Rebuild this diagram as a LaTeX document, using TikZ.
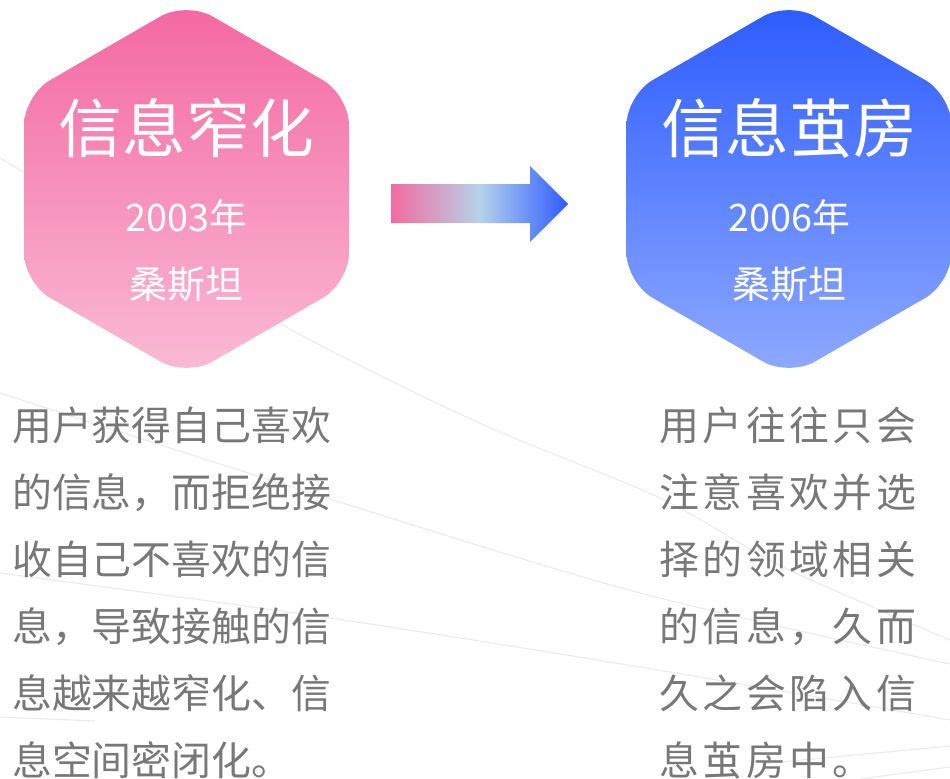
\documentclass[tikz,border=0pt]{standalone}
\usepackage{fontspec}
\setmainfont{Noto Sans CJK SC}
\newfontfamily\cjkspaced[LetterSpace=9]{Noto Sans CJK SC}
\definecolor{pinkTop}{HTML}{F467A1}
\definecolor{pinkBot}{HTML}{FABBD5}
\definecolor{blueTop}{HTML}{2C5BFF}
\definecolor{blueBot}{HTML}{8FAAFF}
\definecolor{arrPink}{HTML}{F26BA0}
\definecolor{arrMid}{HTML}{B5D3EA}
\definecolor{arrBlue}{HTML}{2E5BFF}
\definecolor{bodygray}{HTML}{787878}
\definecolor{bgline}{HTML}{EBEBEB}
\pgfdeclarehorizontalshading{arrowshade}{100bp}{color(0bp)=(arrPink); color(25bp)=(arrPink); color(50bp)=(arrMid); color(75bp)=(arrBlue); color(100bp)=(arrBlue)}
\tikzset{
  bgstroke/.style={draw=bgline, line width=1.1bp},
  hexshape/.style={rounded corners=30bp},
  titletext/.style={text=white, inner sep=0pt, anchor=base, font=\fontsize{64}{64}\selectfont},
  subtext/.style={text=white, inner sep=0pt, anchor=base, font=\fontsize{38}{38}\selectfont},
  bodyleft/.style={text=bodygray, inner sep=0pt, anchor=base west, font=\fontsize{40}{40}\selectfont},
  bodyright/.style={text=bodygray, inner sep=0pt, anchor=base west, font=\fontsize{40}{40}\cjkspaced\selectfont},
}
\begin{document}
\begin{tikzpicture}[x=1bp,y=-1bp]
\useasboundingbox (0,0) rectangle (950,779);
% faint background lines
\draw[bgstroke] plot[smooth] coordinates {(0,158) (277,322) (475,421) (660,498) (783,567) (950,640)};
\draw[bgstroke] plot[smooth] coordinates {(0,393) (330,499) (640,593) (950,664)};
\draw[bgstroke] plot[smooth] coordinates {(0,573) (330,618) (640,667) (950,720)};
\draw[bgstroke] (0,717) -- (95,721);
\draw[bgstroke] (760,764) -- (950,746);
\draw[bgstroke] (860,779) -- (950,767);
% left hexagon
\begin{scope}[shift={(186.5,189)}]
\shade[hexshape, top color=pinkTop, bottom color=pinkBot]
  (-162.5,0) -- (-162.5,-93.8) -- (0,-187.6) -- (162.5,-93.8) -- (162.5,93.8) -- (0,187.6) -- (-162.5,93.8) -- cycle;
\end{scope}
% right hexagon
\begin{scope}[shift={(789,189)}]
\shade[hexshape, top color=blueTop, bottom color=blueBot]
  (-162.5,0) -- (-162.5,-93.8) -- (0,-187.6) -- (162.5,-93.8) -- (162.5,93.8) -- (0,187.6) -- (-162.5,93.8) -- cycle;
\end{scope}
% arrow
\coordinate (arrtail) at (391,203.5);
\coordinate (arrtip) at (568,204);
\shade[shading=arrowshade]
  (391,184) -- (530,184) -- (530,166) -- (arrtip) -- (530,242) -- (530,223) -- (391,223) -- cycle;
% hexagon texts
\node[titletext] (t1) at (186.5,152.5) {信息窄化};
\node[subtext] (y1) at (186.5,231) {2003年};
\node[subtext] (a1) at (186.5,298) {桑斯坦};
\node[titletext] (t2) at (789.5,152.5) {信息茧房};
\node[subtext] (y2) at (789.5,231) {2006年};
\node[subtext] (a2) at (789.5,298) {桑斯坦};
% left paragraph
\node[bodyleft] (l1) at (12,440.2) {用户获得自己喜欢};
\node[bodyleft] (l2) at (12,507.3) {的信息，而拒绝接};
\node[bodyleft] (l3) at (12,574.4) {收自己不喜欢的信};
\node[bodyleft] (l4) at (12,641.5) {息，导致接触的信};
\node[bodyleft] (l5) at (12,708.6) {息越来越窄化、信};
\node[bodyleft] (l6) at (12,775.7) {息空间密闭化。};
% right paragraph
\node[bodyright] (r1) at (659,440.2) {用户往往只会};
\node[bodyright] (r2) at (659,507.3) {注意喜欢并选};
\node[bodyright] (r3) at (659,574.4) {择的领域相关};
\node[bodyright] (r4) at (659,641.5) {的信息，久而};
\node[bodyright] (r5) at (659,708.6) {久之会陷入信};
\node[bodyright] (r6) at (659,775.7) {息茧房中。};
\end{tikzpicture}
\end{document}
